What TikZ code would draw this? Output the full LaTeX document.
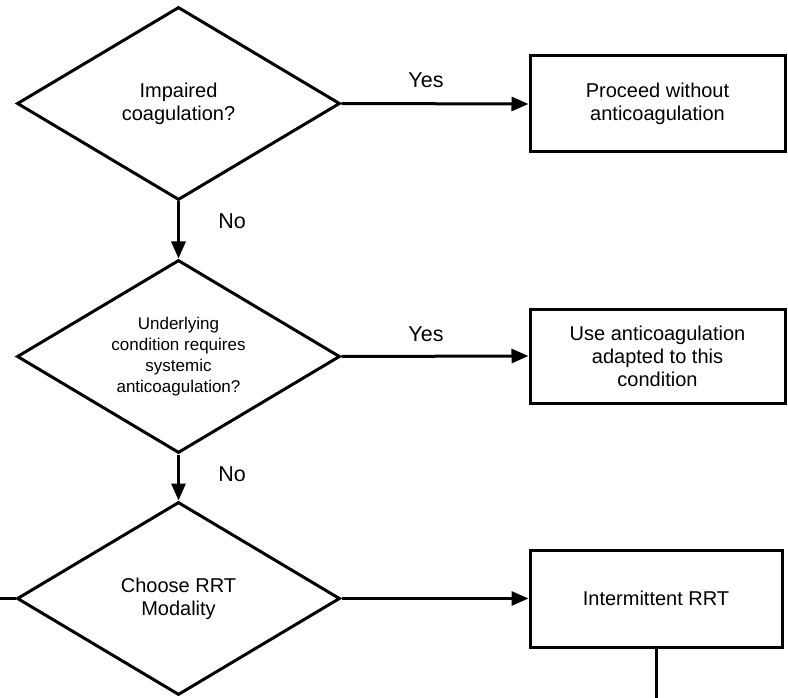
\documentclass[tikz,border=0pt]{standalone}
\usepackage{fontspec}
\setmainfont{Liberation Sans}
\usetikzlibrary{shapes.geometric,arrows.meta}
\begin{document}
\begin{tikzpicture}[x=1pt,y=-1pt,
  every path/.style={line width=3pt},
  decision/.style={diamond, draw, line width=3pt, aspect=1.67, inner sep=0pt,
    minimum width=323pt, minimum height=193pt, align=center,
    font=\fontsize{20}{23}\selectfont},
  action/.style={rectangle, draw, line width=3pt, inner sep=0pt, align=center,
    font=\fontsize{20}{23}\selectfont},
  lbl/.style={inner sep=0pt, font=\fontsize{21.5}{24}\selectfont},
  flow/.style={line width=3pt, -{Triangle[length=17pt,width=14pt]}},
  plain/.style={line width=3pt}
]
\useasboundingbox (0,0) rectangle (788,698);

\node[decision] (d1) at (178.5,103.5) {Impaired\\coagulation?};
\node[decision, font=\fontsize{17}{21}\selectfont] (d2) at (178.5,356.5)
  {Underlying\\condition requires\\systemic\\anticoagulation?};
\node[decision] (d3) at (178.5,598.5) {Choose RRT\\Modality};

\node[action, minimum width=255pt, minimum height=96pt] (b1) at (657.5,104)
  {Proceed without\\anticoagulation};
\node[action, minimum width=255pt, minimum height=94pt] (b2) at (657.5,356)
  {Use anticoagulation\\adapted to this\\condition};
\node[action, minimum width=252pt, minimum height=97pt] (b3) at (656,598.5)
  {Intermittent RRT};

\coordinate (leftend) at (0,598.5);
\coordinate (bottomend) at (656,698);

\draw[flow] (d1.east) -- (b1.west);
\draw[flow] (d2.east) -- (b2.west);
\draw[flow] (d3.east) -- (b3.west);
\draw[flow] (d1.south) -- (d2.north);
\draw[flow] (d2.south) -- (d3.north);
\draw[plain] (d3.west) -- (leftend);
\draw[plain] (b3.south) -- (bottomend);

\node[lbl] (y1) at (426,80) {Yes};
\node[lbl] (y2) at (426,334) {Yes};
\node[lbl] (n1) at (232,221) {No};
\node[lbl] (n2) at (232,474) {No};
\end{tikzpicture}
\end{document}
